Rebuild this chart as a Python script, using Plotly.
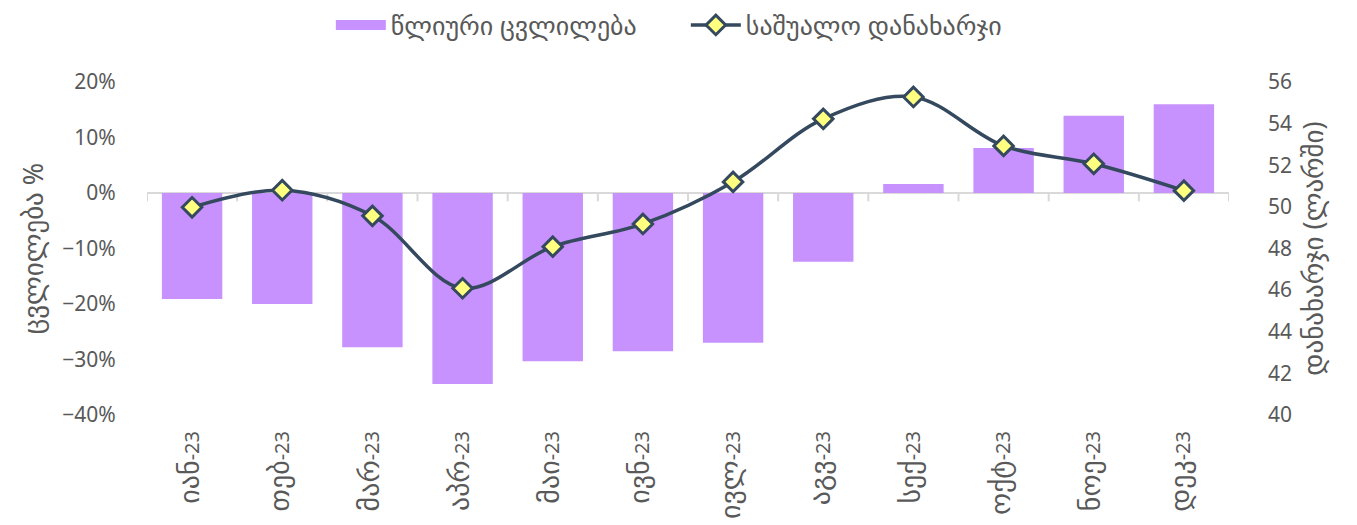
import plotly.graph_objects as go

months = ["იან-23", "თებ-23", "მარ-23", "აპრ-23", "მაი-23", "ივნ-23",
          "ივლ-23", "აგვ-23", "სექ-23", "ოქტ-23", "ნოე-23", "დეკ-23"]
annual_change = [-0.191, -0.200, -0.278, -0.344, -0.303, -0.285,
                 -0.270, -0.124, 0.016, 0.081, 0.139, 0.160]
avg_spending = [49.98, 50.80, 49.57, 46.09, 48.09, 49.18,
                51.20, 54.23, 55.28, 52.93, 52.07, 50.78]

bar_name = "წლიური ცვლილება"
line_name = "საშუალო დანახარჯი"
left_title = "ცვლილება %"
right_title = "დანახარჯი (ლარში)"

FONT = "Noto Sans, DejaVu Sans, sans-serif"
GRAY = "#595959"
BAR_COLOR = "#C792FD"
LINE_COLOR = "#34495E"

# tick text: Georgian month part slightly larger than the year digits
ticktext = []
for m in months:
    name, yr = m.split("-")
    ticktext.append(f'<span style="font-size:28px">{name}</span>-{yr}')

fig = go.Figure()
fig.add_trace(go.Bar(
    x=months, y=annual_change, name=bar_name, showlegend=False,
    marker=dict(color=BAR_COLOR, line=dict(width=0)),
    yaxis="y",
))
# legend-only proxy giving the bar series a wide rectangular swatch
fig.add_trace(go.Scatter(
    x=[None], y=[None], name=bar_name, mode="lines",
    line=dict(color=BAR_COLOR, width=16), yaxis="y", hoverinfo="skip",
))
fig.add_trace(go.Scatter(
    x=months, y=avg_spending, name=line_name, yaxis="y2",
    mode="lines+markers",
    line=dict(color=LINE_COLOR, width=3.5, shape="spline", smoothing=1.0),
    marker=dict(symbol="diamond", size=15, color="#FFFF80",
                line=dict(color=LINE_COLOR, width=3)),
))

# small boundary ticks on the zero line between categories
shapes = []
for i in range(len(months) + 1):
    shapes.append(dict(type="line", xref="x", yref="y",
                       x0=i - 0.5, x1=i - 0.5, y0=0, y1=-0.015,
                       line=dict(color="#D9D9D9", width=2), layer="below"))

fig.update_layout(
    width=1349, height=517,
    margin=dict(l=139, r=128, t=74, b=110, autoexpand=False),
    paper_bgcolor="white", plot_bgcolor="white",
    font=dict(family=FONT, size=21, color=GRAY),
    bargap=0.33,
    showlegend=True,
    legend=dict(orientation="h", x=0.498, xanchor="center", y=1.171, yanchor="middle",
                font=dict(size=26, color=GRAY), itemwidth=50,
                entrywidth=290, traceorder="normal", bgcolor="rgba(0,0,0,0)"),
    xaxis=dict(
        type="category", tickangle=-90, showgrid=False, showline=False,
        tickmode="array", tickvals=months, ticktext=ticktext,
        ticks="outside", ticklen=7, tickcolor="rgba(0,0,0,0)",
        tickfont=dict(size=20, color=GRAY), range=[-0.5, len(months) - 0.5],
    ),
    yaxis=dict(
        range=[-0.4, 0.2], dtick=0.1, tickformat=".0%", showgrid=False,
        zeroline=True, zerolinecolor="#D9D9D9", zerolinewidth=2,
        showline=False, ticks="outside", ticklen=26, tickcolor="rgba(0,0,0,0)",
        title=dict(text=left_title, font=dict(size=27, color=GRAY), standoff=10),
    ),
    yaxis2=dict(
        range=[40, 56], dtick=2, overlaying="y", side="right", showgrid=False,
        zeroline=False, showline=False, ticks="", ticklabelstandoff=38,
        title=dict(text=right_title, font=dict(size=27, color=GRAY), standoff=13),
    ),
    shapes=shapes,
)

fig.write_html("out.html")
